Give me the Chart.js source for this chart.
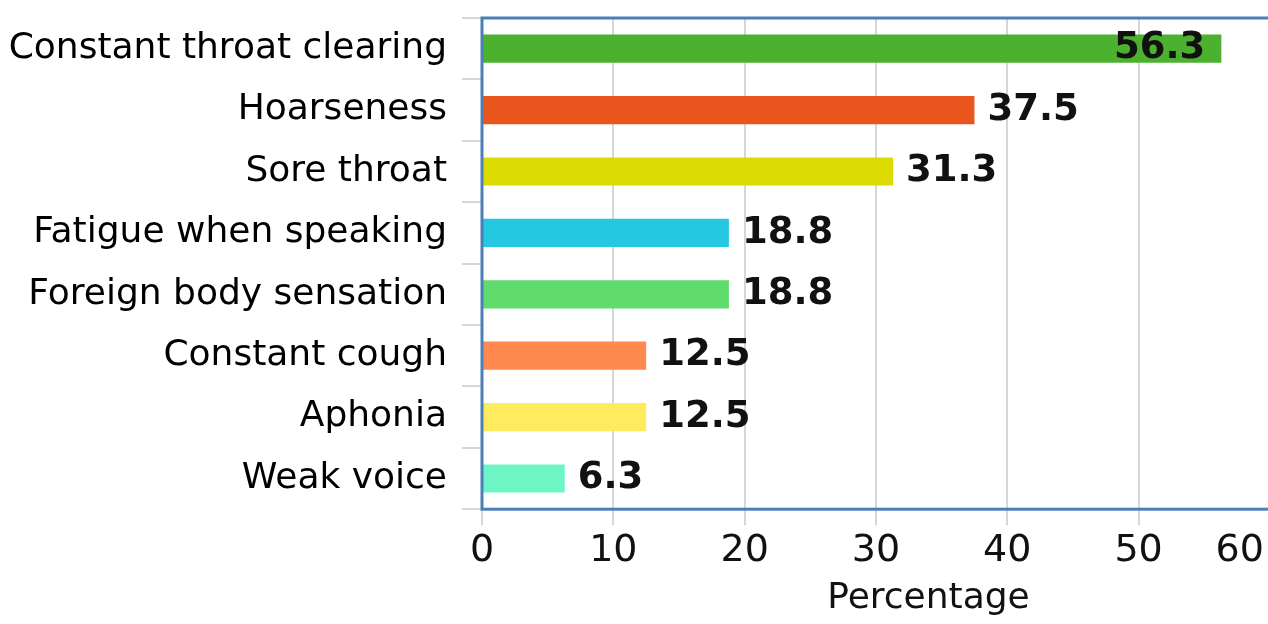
<!DOCTYPE html>
<html>
<head>
<meta charset="utf-8">
<script src="https://cdn.jsdelivr.net/npm/chart.js@4"></script>
<style>
  html, body { margin: 0; padding: 0; background: #fff; overflow: hidden; }
  #wrap { width: 1375px; height: 624px; }
</style>
</head>
<body>
<div id="wrap"><canvas id="barChart"></canvas></div>
<script>
var symptoms = ['Constant throat clearing', 'Hoarseness', 'Sore throat', 'Fatigue when speaking',
    'Foreign body sensation', 'Constant cough', 'Aphonia', 'Weak voice'];
var percentages = [56.3, 37.5, 31.3, 18.8, 18.8, 12.5, 12.5, 6.3];
var barColors = ['#4cb12f', '#e9561d', '#dcdc02', '#24c8e0', '#5fdc6b', '#fe8a4f', '#ffec5e', '#6ef5c5'];
var xTicks = [0, 10, 20, 30, 40, 50, 60];
var axisTitle = 'Percentage';

// blue frame round the plot area
var frame = {
    id: 'frame',
    afterDatasetsDraw: function(chart) {
        var a = chart.chartArea;
        var ctx = chart.ctx;
        ctx.save();
        ctx.strokeStyle = '#4a7fb7';
        ctx.lineWidth = 3;
        ctx.strokeRect(a.left, a.top, a.right - a.left, a.bottom - a.top);
        ctx.restore();
    }
};

// value next to each bar (inside when it would run off the axis)
var valueLabels = {
    id: 'valueLabels',
    afterDatasetsDraw: function(chart) {
        var ctx = chart.ctx;
        var limit = chart.scales.x.getPixelForValue(xTicks[xTicks.length - 1]);
        ctx.save();
        ctx.font = 'bold 37px "DejaVu Sans"';
        ctx.fillStyle = '#111';
        ctx.textBaseline = 'middle';
        chart.getDatasetMeta(0).data.forEach(function(bar, i) {
            var txt = percentages[i].toFixed(1);
            var w = ctx.measureText(txt).width;
            if (bar.x + 13 + w > limit) {
                ctx.textAlign = 'right';
                ctx.fillText(txt, bar.x - 16, bar.y);
            } else {
                ctx.textAlign = 'left';
                ctx.fillText(txt, bar.x + 13, bar.y);
            }
        });
        ctx.restore();
    }
};

var ctx = document.getElementById('barChart').getContext('2d');
var myChart = new Chart(ctx, {
    type: 'bar',
    data: {
        labels: symptoms,
        datasets: [{
            data: percentages,
            backgroundColor: barColors,
            borderWidth: 0,
            barPercentage: 0.46,
            categoryPercentage: 1
        }]
    },
    options: {
        indexAxis: 'y',
        responsive: true,
        maintainAspectRatio: false,
        animation: false,
        layout: { padding: { top: 0, left: 0, right: 0, bottom: 0 } },
        plugins: {
            legend: { display: false },
            tooltip: { enabled: false }
        },
        scales: {
            x: {
                min: 0,
                max: 68,
                afterBuildTicks: function(scale) {
                    scale.ticks = xTicks.map(function(v) { return { value: v }; });
                },
                grid: { color: '#d6d6d6', lineWidth: 2, tickLength: 16, tickColor: '#d6d6d6' },
                border: { display: false },
                ticks: {
                    autoSkip: false,
                    maxRotation: 0,
                    padding: 3,
                    color: '#111',
                    font: { family: 'DejaVu Sans', size: 38 },
                    callback: function(value, index, ticks) {
                        // last label sits at the picture's edge
                        return index === ticks.length - 1 ? value + '     ' : String(value);
                    }
                },
                title: {
                    display: true,
                    text: axisTitle,
                    color: '#111',
                    font: { family: 'DejaVu Sans', size: 36 },
                    padding: { top: 0, bottom: 4 }
                }
            },
            y: {
                afterFit: function(scale) {
                    scale.width = 482;
                    scale.paddingTop = 18;
                },
                grid: { drawOnChartArea: false, offset: true, tickLength: 20, color: '#d6d6d6', lineWidth: 2 },
                border: { display: false },
                ticks: {
                    padding: 15,
                    color: '#000',
                    font: { family: 'DejaVu Sans', size: 36 }
                }
            }
        }
    },
    plugins: [frame, valueLabels]
});
</script>
</body>
</html>
